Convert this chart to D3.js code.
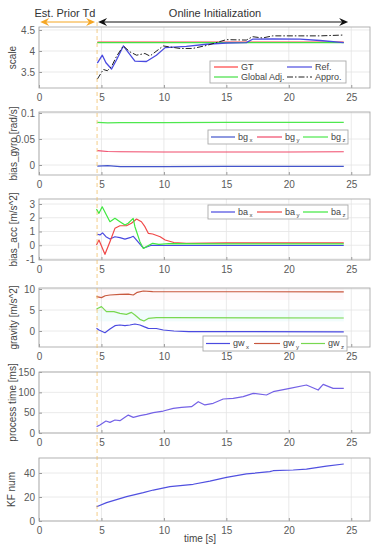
<!DOCTYPE html>
<html><head><meta charset="utf-8">
<script src="https://cdn.jsdelivr.net/npm/d3@7"></script>
<style>body{margin:0;background:#fff}svg{display:block;font-family:"Liberation Sans",Arial,sans-serif}</style>
</head><body><svg id="c" width="376" height="550"></svg>
<script>
// ---------- data ----------
const xTicks = [0, 5, 10, 15, 20, 25];
const tPrior = 4.65, tEnd = 24.4;

const scaleGtT = [4.67, 24.4], scaleGtV = [4.21, 4.21];
const scaleGlobT = [4.67, 24.4], scaleGlobV = [4.2, 4.2];
const scaleRefT = [4.67,5.07,5.36,5.81,6.21,6.75,7.68,8.6,9.4,10.1,11.8,13.4,15,16.6,17.1,18.7,20.9,22.5,24.4];
const scaleRefV = [3.71,3.90,3.72,3.57,3.79,4.12,3.76,3.75,3.9,4.08,4.11,4.16,4.19,4.2,4.28,4.29,4.28,4.25,4.2];
const scaleAppT = [4.67,5.15,5.47,5.81,6.2,6.75,7.28,7.81,8.48,8.88,9.95,11.3,12.3,13.4,15,16.6,17.1,17.9,18.7,20.9,22.5,24.4];
const scaleAppV = [3.33,3.56,3.53,3.63,3.87,4.12,3.98,3.90,3.94,3.88,4.12,4.06,4.06,4.13,4.27,4.26,4.34,4.31,4.36,4.36,4.36,4.38];

const bgT = [4.67, 5.5, 6.5, 10, 15, 20, 24.4];
const bgxV = [-0.002,-0.001,-0.003,-0.003,-0.0025,-0.0025,-0.0025];
const bgyV = [0.0275,0.026,0.0255,0.025,0.025,0.025,0.0255];
const bgzV = [0.082,0.081,0.0815,0.0815,0.082,0.082,0.082];

const baxT = [4.67,4.88,5.09,5.36,5.68,6.08,6.48,6.88,7.28,7.55,7.81,8.2,8.4,9.0,10,15,24.4];
const baxV = [0.8,0.75,0.9,0.62,0.45,0.62,0.55,0.45,0.55,0.65,0.38,-0.05,-0.2,0,-0.02,-0.02,-0.02];
const bayT = [4.6,4.8,5.28,5.68,6.08,6.48,7.0,7.4,7.81,8.2,8.48,8.75,9.1,9.7,10.1,10.8,11.8,15,24.4];
const bayV = [0.02,0.38,-0.66,0.26,1.23,1.42,1.42,1.6,1.91,1.71,1.35,0.87,0.82,0.62,0.38,0.2,0.14,0.17,0.17];
const bazT = [4.6,4.8,5.06,5.4,5.68,6.08,6.48,6.88,7.14,7.54,7.68,8.08,8.35,8.6,9.1,9.6,10.4,15,24.4];
const bazV = [2.63,2.32,2.8,2.2,1.71,1.96,1.71,1.47,1.6,1.96,1.35,0.26,-0.23,-0.1,0.14,0.07,0.12,0.1,0.1];

const gwxT = [4.6,4.8,5.28,5.68,6.08,6.48,6.88,7.28,7.68,8.08,8.4,8.75,9.4,9.95,10.8,12,24.4];
const gwxV = [0.63,0.24,-0.4,0.48,1.27,1.43,1.27,1.43,1.67,1.43,1.03,0.63,0.6,0.24,0,-0.15,-0.2];
const gwyT = [4.6,5.0,5.3,5.68,6.48,7.15,7.55,7.87,8.35,9.1,24.4];
const gwyV = [8.17,7.94,8.4,8.57,8.73,8.8,8.57,9.2,9.52,9.4,9.3];
const gwzT = [4.6,5.0,5.4,6.0,6.48,7.0,7.4,7.68,8.08,8.4,8.75,9.4,10.4,24.4];
const gwzV = [5.24,5.8,4.6,4.6,4.2,3.97,4.44,3.8,2.78,2.38,3.0,3.17,3.17,3.1];
const gwyBand = [7.4, 10.24], gwzBand = [2.3, 5.0];

const ptT = [4.61,4.88,5.36,5.68,6.08,6.48,6.88,7.15,7.55,8.08,8.61,9.15,9.95,10.75,11.41,12.21,12.75,13.28,13.95,14.75,15.55,16.35,17.15,18.21,18.75,20.08,21.41,22.35,22.75,23.55,24.4];
const ptV = [15.6,19.7,29.5,26.2,32,30.3,38.5,44,38.5,42.6,45.9,50,54,60.6,63,64.7,77,69,73,83.6,85.2,89.3,97.5,93.4,101.6,109.8,118,105.7,119.6,109.8,109.8];

const kfT = [4.61,5.41,7.01,8.35,9.15,10.48,12.35,13.68,15.01,16.61,18.48,18.75,20.35,21.41,23.01,24.4];
const kfV = [11.9,15.3,20.3,23.6,25.8,28.6,30.6,33.3,36.4,39.2,41.1,41.9,42.5,43.3,45.8,47.5];

// ---------- drawing ----------
const svg = d3.select("#c");
const L = 39, R = 370;
const x = d3.scaleLinear().domain([0, 26.5]).range([L, R]);
const line = d3.line();

function panel(p) {
  const y = d3.scaleLinear().domain(p.yDomain).range([p.bottom, p.top]);
  const g = svg.append("g");
  (p.bands || []).forEach(b => {
    g.append("rect").attr("x", x(tPrior)).attr("width", x(tEnd) - x(tPrior))
      .attr("y", y(b.range[1])).attr("height", y(b.range[0]) - y(b.range[1]))
      .attr("fill", b.color);
  });
  g.selectAll(".gx").data(xTicks).enter().append("line")
    .attr("x1", d => x(d)).attr("x2", d => x(d)).attr("y1", p.top).attr("y2", p.bottom)
    .attr("stroke", "#e4e4e4").attr("stroke-width", 0.8);
  g.selectAll(".gy").data(p.yTicks).enter().append("line")
    .attr("x1", L).attr("x2", R).attr("y1", d => y(d)).attr("y2", d => y(d))
    .attr("stroke", "#e4e4e4").attr("stroke-width", 0.8);
  p.series.forEach(s => {
    g.append("path").attr("d", line(s.t.map((t, i) => [x(t), y(s.v[i])])))
      .attr("fill", "none").attr("stroke", s.color).attr("stroke-width", s.w || 1.2)
      .attr("stroke-dasharray", s.dash || null).attr("stroke-linejoin", "round");
  });
  const ax = g.append("g").attr("transform", `translate(0,${p.bottom})`)
    .call(d3.axisBottom(x).tickValues(xTicks).tickSize(-3).tickPadding(6).tickFormat(d3.format("d")));
  const ay = g.append("g").attr("transform", `translate(${L},0)`)
    .call(d3.axisLeft(y).tickValues(p.yTicks).tickSize(-3).tickPadding(4).tickFormat(p.fmt || (d => d)));
  [ax, ay].forEach(a => {
    a.select(".domain").remove();
    a.selectAll("line").attr("stroke", "#999");
    a.selectAll("text").attr("fill", "#5a5a5a").style("font-size", "10px").style("font-family", "'Liberation Sans',Arial,sans-serif");
  });
  g.append("rect").attr("x", L).attr("y", p.top).attr("width", R - L).attr("height", p.bottom - p.top)
    .attr("fill", "none").attr("stroke", "#aaa").attr("stroke-width", 0.9);
  g.append("text").attr("transform", `translate(${p.labX},${(p.top + p.bottom) / 2}) rotate(-90)`)
    .attr("text-anchor", "middle").attr("dy", "0.35em").attr("fill", "#444").style("font-size", "10px").text(p.label);
  if (p.legend) {
    const lg = p.legend;
    g.append("rect").attr("x", lg.x0).attr("y", lg.y0).attr("width", lg.x1 - lg.x0).attr("height", lg.y1 - lg.y0)
      .attr("fill", "#fff").attr("stroke", "#aaa").attr("stroke-width", 0.9);
    lg.items.forEach(it => {
      g.append("line").attr("x1", it.lx0).attr("x2", it.lx1).attr("y1", it.y).attr("y2", it.y)
        .attr("stroke", it.color).attr("stroke-width", 1.2).attr("stroke-dasharray", it.dash || null);
      const t = g.append("text").attr("x", it.lx1 + 3).attr("y", it.y).attr("dy", "0.33em")
        .attr("fill", "#444").style("font-size", "9px").text(it.name);
      if (it.sub) t.append("tspan").attr("dy", "0.35em").attr("dx", "1.5").style("font-size", "6px").text(it.sub);
    });
  }
}

panel({ top: 27, bottom: 88, yDomain: [3.119, 4.571], yTicks: [3.5, 4, 4.5], label: "scale", labX: 12,
  series: [
    { t: scaleGtT, v: scaleGtV, color: "#ff4040" },
    { t: scaleGlobT, v: scaleGlobV, color: "#44e044", w: 1.4 },
    { t: scaleRefT, v: scaleRefV, color: "#4a4ae0", w: 1.3 },
    { t: scaleAppT, v: scaleAppV, color: "#222", dash: "6,2,1.5,2", w: 1 }
  ],
  legend: { x0: 210, x1: 346, y0: 61, y1: 83, items: [
    { name: "GT", color: "#ff4040", lx0: 214, lx1: 238, y: 67 },
    { name: "Ref.", color: "#4a4ae0", lx0: 287, lx1: 312, y: 67 },
    { name: "Global Adj.", color: "#44e044", lx0: 214, lx1: 238, y: 77 },
    { name: "Appro.", color: "#222", dash: "6,2,1.5,2", lx0: 287, lx1: 312, y: 77 }
  ]}
});

panel({ top: 112, bottom: 175, yDomain: [-0.0192, 0.1019], yTicks: [0, 0.05, 0.1], label: "bias_gyro [rad/s]", labX: 13,
  series: [
    { t: bgT, v: bgxV, color: "#4455cc" },
    { t: bgT, v: bgyV, color: "#f04a6a" },
    { t: bgT, v: bgzV, color: "#4ee84e" }
  ],
  legend: { x0: 208, x1: 348, y0: 130, y1: 144, items: [
    { name: "bg", sub: "x", color: "#4455cc", lx0: 211, lx1: 235, y: 137 },
    { name: "bg", sub: "y", color: "#f04a6a", lx0: 257, lx1: 282, y: 137 },
    { name: "bg", sub: "z", color: "#4ee84e", lx0: 303, lx1: 328, y: 137 }
  ]}
});

panel({ top: 199, bottom: 260, yDomain: [-1.073, 3.364], yTicks: [-1, 0, 1, 2, 3], label: "bias_acc [m/s^2]", labX: 13,
  series: [
    { t: baxT, v: baxV, color: "#4a4ae0" },
    { t: bayT, v: bayV, color: "#f04848" },
    { t: bazT, v: bazV, color: "#40e840" }
  ],
  legend: { x0: 208, x1: 348, y0: 205, y1: 219, items: [
    { name: "ba", sub: "x", color: "#4a4ae0", lx0: 211, lx1: 235, y: 212 },
    { name: "ba", sub: "y", color: "#f04848", lx0: 257, lx1: 282, y: 212 },
    { name: "ba", sub: "z", color: "#40e840", lx0: 303, lx1: 328, y: 212 }
  ]}
});

panel({ top: 288, bottom: 347, yDomain: [-3.81, 10.24], yTicks: [0, 5, 10], label: "gravity [m/s^2]", labX: 13,
  bands: [
    { range: gwyBand, color: "rgba(255,205,215,0.16)" },
    { range: gwzBand, color: "rgba(185,240,240,0.2)" }
  ],
  series: [
    { t: gwxT, v: gwxV, color: "#4a4ae0" },
    { t: gwyT, v: gwyV, color: "#c8583e" },
    { t: gwzT, v: gwzV, color: "#78d850" }
  ],
  legend: { x0: 203, x1: 347, y0: 336, y1: 351, items: [
    { name: "gw", sub: "x", color: "#4a4ae0", lx0: 206, lx1: 230, y: 343.5 },
    { name: "gw", sub: "y", color: "#c8583e", lx0: 254, lx1: 280, y: 343.5 },
    { name: "gw", sub: "z", color: "#78d850", lx0: 301, lx1: 325, y: 343.5 }
  ]}
});

panel({ top: 372, bottom: 433, yDomain: [0, 150], yTicks: [0, 50, 100, 150], label: "process time [ms]", labX: 12,
  series: [{ t: ptT, v: ptV, color: "#7462e6" }]
});

panel({ top: 458, bottom: 521, yDomain: [0, 52.5], yTicks: [0, 20, 40], label: "KF num", labX: 11,
  series: [{ t: kfT, v: kfV, color: "#5050e0" }]
});

svg.append("text").attr("x", 200).attr("y", 538).attr("dy", "0.35em").attr("text-anchor", "middle")
  .attr("fill", "#444").style("font-size", "10px").text("time [s]");

svg.append("line").attr("x1", x(tPrior)).attr("x2", x(tPrior)).attr("y1", 22).attr("y2", 521)
  .attr("stroke", "rgba(240,185,90,0.55)").attr("stroke-width", 1.3).attr("stroke-dasharray", "4,3");

function dblArrow(x0, x1, yv, color) {
  svg.append("line").attr("x1", x0 + 4).attr("x2", x1 - 4).attr("y1", yv).attr("y2", yv).attr("stroke", color).attr("stroke-width", 1);
  svg.append("path").attr("d", `M${x1},${yv} L${x1 - 9},${yv - 4} L${x1 - 6},${yv} L${x1 - 9},${yv + 4} Z`).attr("fill", color);
  svg.append("path").attr("d", `M${x0},${yv} L${x0 + 9},${yv - 4} L${x0 + 6},${yv} L${x0 + 9},${yv + 4} Z`).attr("fill", color);
}
dblArrow(x(0.1), x(tPrior) - 2, 22, "#f5a623");
dblArrow(x(tPrior) + 1, x(24.75), 22, "#111");
svg.append("text").attr("x", 65).attr("y", 13).attr("dy", "0.35em").attr("text-anchor", "middle")
  .attr("fill", "#333").style("font-size", "11px").text("Est. Prior Td");
svg.append("text").attr("x", 215).attr("y", 13).attr("dy", "0.35em").attr("text-anchor", "middle")
  .attr("fill", "#333").style("font-size", "11px").text("Online Initialization");
</script></body></html>
